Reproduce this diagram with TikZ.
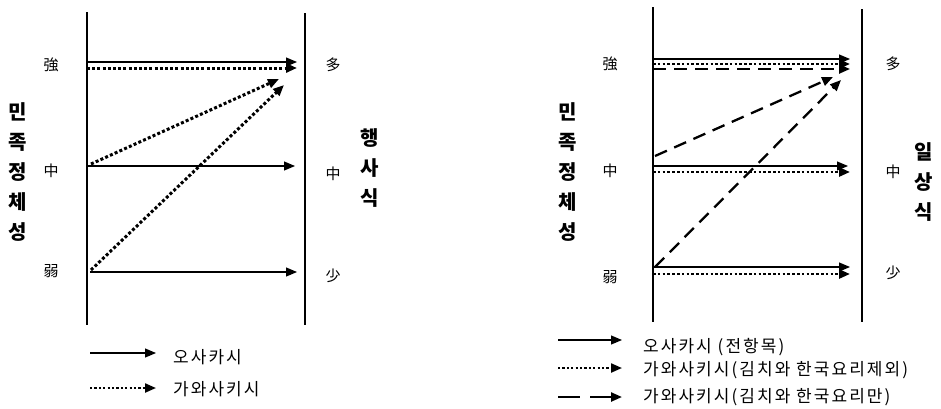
\documentclass[tikz,border=0pt]{standalone}
\usepackage{fontspec}
\setmainfont{Noto Sans CJK KR}
\newfontfamily\legfont[LetterSpace=12]{Noto Sans CJK KR}
\usetikzlibrary{arrows.meta}
\tikzset{
  axis/.style={line width=2.6pt},
  tip/.style={-{Triangle[length=11pt,width=9pt]}},
  solidarr/.style={tip, line width=1.1pt},
  dotarr/.style={tip, line width=3pt, dash pattern=on 3pt off 2.2pt},
  dotarrR/.style={tip, line width=2.6pt, dash pattern=on 2.6pt off 2.2pt},
  dasharr/.style={tip, line width=2.3pt, dash pattern=on 13pt off 8pt},
  lvl/.style={font=\fontsize{15}{15}\selectfont, inner sep=0pt},
  vlab/.style={font=\bfseries\fontsize{20}{30}\selectfont, align=center, inner sep=0pt},
  legtxt/.style={font=\legfont\fontsize{17}{17}\selectfont, anchor=west, inner sep=0pt},
}
\begin{document}
\begin{tikzpicture}[x=1pt,y=-1pt]
\useasboundingbox (0,0) rectangle (941,408);
% ---------------- left diagram ----------------
\coordinate (L1t) at (87,12); \coordinate (L1b) at (87,325);
\coordinate (L2t) at (305,13); \coordinate (L2b) at (305,325);
\draw[axis] (L1t) -- (L1b);
\draw[axis] (L2t) -- (L2b);
\node[vlab] (lid1) at (18,172) {민\\족\\정\\체\\성};
\node[vlab] (lhs) at (370,168) {행\\사\\식};
\node[lvl] (ls) at (51,65) {強};
\node[lvl] (lm) at (51,171) {中};
\node[lvl] (lw) at (51,271) {弱};
\node[lvl] (ld) at (333,65) {多};
\node[lvl] (lmm) at (333,174) {中};
\node[lvl] (lf) at (333,276) {少};
% arrows
\coordinate (a1s) at (87,62);  \coordinate (a1e) at (297,62);
\coordinate (a2s) at (87,68);  \coordinate (a2e) at (297,68);
\coordinate (a3s) at (87,166); \coordinate (a3e) at (295,166);
\coordinate (a4s) at (90,272); \coordinate (a4e) at (297,272);
\coordinate (a5s) at (91,164); \coordinate (a5e) at (279,79);
\coordinate (a6s) at (91,270); \coordinate (a6e) at (284,85);
\draw[solidarr] (a1s) -- (a1e);
\draw[dotarr] (a2s) -- (a2e);
\draw[solidarr] (a3s) -- (a3e);
\draw[solidarr] (a4s) -- (a4e);
\draw[dotarr] (a5s) -- (a5e);
\draw[dotarr] (a6s) -- (a6e);
% legend
\coordinate (lg1s) at (90,353); \coordinate (lg1e) at (156,353);
\coordinate (lg2s) at (90,388); \coordinate (lg2e) at (156,388);
\draw[solidarr] (lg1s) -- (lg1e);
\draw[dotarr, line width=2.2pt, dash pattern=on 2.2pt off 2.2pt] (lg2s) -- (lg2e);
\node[legtxt] (lt1) at (173,357) {오사카시};
\node[legtxt] (lt2) at (173,389) {가와사키시};
% ---------------- right diagram ----------------
\coordinate (R1t) at (653,7); \coordinate (R1b) at (653,322);
\coordinate (R2t) at (862,9); \coordinate (R2b) at (862,322);
\draw[axis] (R1t) -- (R1b);
\draw[axis] (R2t) -- (R2b);
\node[vlab] (rid) at (568,172) {민\\족\\정\\체\\성};
\node[vlab] (rds) at (924,182) {일\\상\\식};
\node[lvl] (rs) at (610,64) {強};
\node[lvl] (rm) at (610,171) {中};
\node[lvl] (rw) at (610,277) {弱};
\node[lvl] (rd) at (893,64) {多};
\node[lvl] (rmm) at (893,172) {中};
\node[lvl] (rf) at (893,273) {少};
% arrows
\coordinate (b1s) at (653,59);  \coordinate (b1e) at (850,59);
\coordinate (b2s) at (653,64);  \coordinate (b2e) at (850,64);
\coordinate (b3s) at (653,69);  \coordinate (b3e) at (850,69);
\coordinate (b4s) at (653,166); \coordinate (b4e) at (848,166);
\coordinate (b5s) at (653,172); \coordinate (b5e) at (850,172);
\coordinate (b6s) at (653,267); \coordinate (b6e) at (850,267);
\coordinate (b7s) at (653,274); \coordinate (b7e) at (850,274);
\coordinate (b8s) at (655,156); \coordinate (b8e) at (833,77);
\coordinate (b9s) at (655,267); \coordinate (b9e) at (841,80);
\draw[solidarr] (b1s) -- (b1e);
\draw[dotarrR] (b2s) -- (b2e);
\draw[dasharr] (b3s) -- (b3e);
\draw[solidarr] (b4s) -- (b4e);
\draw[dotarrR] (b5s) -- (b5e);
\draw[solidarr] (b6s) -- (b6e);
\draw[dotarrR] (b7s) -- (b7e);
\draw[dasharr] (b8s) -- (b8e);
\draw[dasharr] (b9s) -- (b9e);
% legend
\coordinate (rg1s) at (558,340); \coordinate (rg1e) at (622,340);
\coordinate (rg2s) at (558,368); \coordinate (rg2e) at (622,368);
\coordinate (rg3s) at (558,397); \coordinate (rg3e) at (622,397);
\draw[solidarr] (rg1s) -- (rg1e);
\draw[dotarr, line width=2.2pt, dash pattern=on 2.2pt off 2.2pt] (rg2s) -- (rg2e);
\draw[dasharr, dash pattern=on 22pt off 10pt] (rg3s) -- (rg3e);
\node[legtxt] (rt1) at (643,347) {오사카시 (전항목)};
\node[legtxt] (rt2) at (643,370) {가와사키시(김치와 한국요리제외)};
\node[legtxt] (rt3) at (643,397) {가와사키시(김치와 한국요리만)};
\end{tikzpicture}
\end{document}
